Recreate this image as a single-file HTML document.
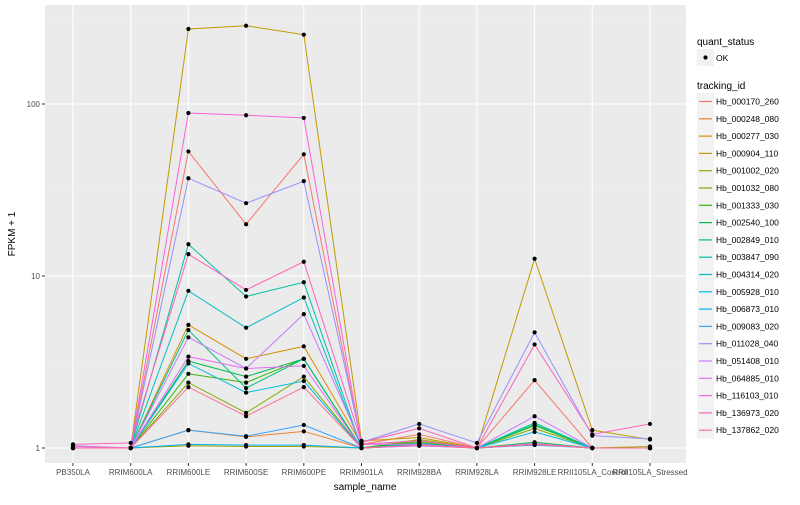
<!DOCTYPE html>
<html><head><meta charset="utf-8"><style>
body{margin:0;background:#fff;font-family:"Liberation Sans",sans-serif}
</style></head><body>
<svg id="c" width="800" height="500" xmlns="http://www.w3.org/2000/svg" font-family="Liberation Sans, sans-serif"></svg>
<script>
const samples=["PB350LA","RRIM600LA","RRIM600LE","RRIM600SE","RRIM600PE","RRIM901LA","RRIM928BA","RRIM928LA","RRIM928LE","RRII105LA_Control","RRII105LA_Stressed"];
const ids=["Hb_000170_260","Hb_000248_080","Hb_000277_030","Hb_000904_110","Hb_001002_020","Hb_001032_080","Hb_001333_030","Hb_002540_100","Hb_002849_010","Hb_003847_090","Hb_004314_020","Hb_005928_010","Hb_006873_010","Hb_009083_020","Hb_011028_040","Hb_051408_010","Hb_064885_010","Hb_116103_010","Hb_136973_020","Hb_137862_020"];
const colors=["#F8766D","#EA8331","#D89000","#C09B00","#A3A500","#7CAE00","#39B600","#00BB4E","#00BF7D","#00C1A3","#00BFC4","#00BAE0","#00B0F6","#35A2FF","#9590FF","#C77CFF","#E76BF3","#FA62DB","#FF62BC","#FF6C91"];
const v000170=[1.0,1.0,53,20,51,1.05,1.2,1.0,2.48,1.0,1.0];
const v000248=[1.0,1.0,1.27,1.16,1.25,1.0,1.05,1.0,1.05,1.0,1.0];
const v000277=[1.0,1.0,5.2,3.3,3.9,1.05,1.1,1.0,1.05,1.0,1.0];
const v000904=[1.0,1.0,273,285,253,1.1,1.15,1.0,12.6,1.27,1.12];
const v001002=[1.0,1.0,1.03,1.02,1.02,1.0,1.12,1.0,1.05,1.0,1.02];
const v001032=[1.0,1.0,2.4,1.6,2.6,1.0,1.08,1.0,1.3,1.0,1.0];
const v001333=[1.0,1.0,2.7,2.4,3.3,1.0,1.1,1.0,1.35,1.0,1.0];
const v002540=[1.0,1.0,3.2,2.6,3.3,1.0,1.05,1.0,1.08,1.0,1.0];
const v002849=[1.0,1.0,4.85,2.23,3.3,1.0,1.07,1.0,1.37,1.0,1.0];
const v003847=[1.0,1.0,15.3,7.6,9.2,1.0,1.05,1.0,1.4,1.0,1.0];
const v004314=[1.0,1.0,8.2,5.0,7.5,1.0,1.05,1.0,1.05,1.0,1.0];
const v005928=[1.0,1.0,3.1,2.1,2.45,1.0,1.04,1.0,1.24,1.0,1.0];
const v006873=[1.0,1.0,1.05,1.04,1.04,1.0,1.04,1.0,1.05,1.0,1.0];
const v009083=[1.0,1.0,1.27,1.17,1.36,1.0,1.03,1.0,1.04,1.0,1.0];
const v011028=[1.03,1.0,37,26.5,35.6,1.08,1.38,1.07,4.7,1.18,1.13];
const v051408=[1.0,1.0,4.4,2.9,6.0,1.05,1.05,1.0,1.53,1.0,1.0];
const v064885=[1.0,1.0,3.4,2.9,3.0,1.0,1.03,1.0,1.05,1.0,1.0];
const v116103=[1.02,1.0,88.7,86,83,1.05,1.1,1.0,1.06,1.0,1.0];
const v136973=[1.05,1.07,13.4,8.3,12.1,1.08,1.3,1.0,4.0,1.2,1.38];
const v137862=[1.0,1.0,2.26,1.53,2.26,1.0,1.04,1.0,1.05,1.0,1.0];
const series=[v000170,v000248,v000277,v000904,v001002,v001032,v001333,v002540,v002849,v003847,v004314,v005928,v006873,v009083,v011028,v051408,v064885,v116103,v136973,v137862];
const yTicks=[1,10,100];

const NS="http://www.w3.org/2000/svg";
const svg=document.getElementById('c');
function mk(t,a,p){const e=document.createElementNS(NS,t);for(const k in a)e.setAttribute(k,a[k]);(p||svg).appendChild(e);return e;}
const PL=45,PR=686,PT=5,PB=463;
const xs=i=>73+i*(650-73)/10;
const ys=v=>448-172*Math.log10(v);

const bg=mk('rect',{x:PL,y:PT,width:PR-PL,height:PB-PT,fill:'#EBEBEB'});


[Math.sqrt(10),Math.sqrt(1000),Math.sqrt(100000)].forEach(v=>{const y=ys(v);if(y>PT)mk('line',{x1:PL,x2:PR,y1:y,y2:y,stroke:'#F7F7F7','stroke-width':0.6});});
yTicks.forEach(v=>{
  const y=ys(v);
  mk('line',{x1:PL,x2:PR,y1:y,y2:y,stroke:'#fff','stroke-width':1.1});
  mk('line',{x1:PL-3,x2:PL,y1:y,y2:y,stroke:'#333','stroke-width':1});
  const t=mk('text',{x:PL-5,y:y+3,'text-anchor':'end','font-size':8,fill:'#4D4D4D'});t.textContent=v;
  
  
});
samples.forEach((s,i)=>{
  const x=xs(i);
  mk('line',{x1:x,x2:x,y1:PT,y2:PB,stroke:'#fff','stroke-width':1.1});
  mk('line',{x1:x,x2:x,y1:PB,y2:PB+3,stroke:'#333','stroke-width':1});
  const t=mk('text',{x:x,y:PB+12,'text-anchor':'middle','font-size':8,fill:'#4D4D4D'});t.textContent=s;
  
  
});
series.forEach((vals,k)=>{
  const p=mk('polyline',{points:vals.map((v,i)=>xs(i)+','+ys(v)).join(' '),fill:'none',stroke:colors[k],'stroke-width':1});
  
  
});
series.forEach((vals,k)=>{vals.forEach((v,i)=>{
  const c=mk('circle',{cx:xs(i),cy:ys(v),r:2.1,fill:'#000'});
  
  
});});
let t=mk('text',{x:365,y:490,'text-anchor':'middle','font-size':10,fill:'#000'});t.textContent='sample_name';


t=mk('text',{x:15,y:234,'text-anchor':'middle','font-size':10,fill:'#000',transform:'rotate(-90 15 234)'});t.textContent='FPKM + 1';


t=mk('text',{x:697,y:45,'font-size':10,fill:'#000'});t.textContent='quant_status';


mk('rect',{x:697,y:49,width:17,height:17,fill:'#F2F2F2'});
mk('circle',{cx:705.5,cy:57.5,r:2.1,fill:'#000'});
t=mk('text',{x:716,y:61,'font-size':8.5,fill:'#000'});t.textContent='OK';


t=mk('text',{x:697,y:89,'font-size':10,fill:'#000'});t.textContent='tracking_id';


ids.forEach((id,k)=>{
  const y=93+k*17.3;
  const g=mk('g',{});
  
  
  mk('rect',{x:697,y:y,width:17,height:17,fill:'#F2F2F2'},g);
  mk('line',{x1:699,x2:712,y1:y+8.5,y2:y+8.5,stroke:colors[k],'stroke-width':1.2},g);
  const tt=mk('text',{x:716,y:y+11.5,'font-size':8.5,fill:'#000'},g);tt.textContent=id;
});
</script>
</body></html>
